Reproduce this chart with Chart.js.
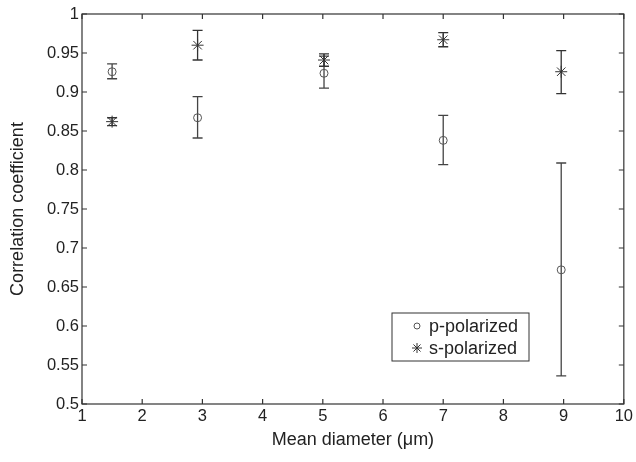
<!DOCTYPE html>
<html>
<head>
<meta charset="utf-8">
<script src="https://cdn.jsdelivr.net/npm/chart.js@4.4.0/dist/chart.umd.min.js"></script>
<style>
  body { margin: 0; background: #fff; }
</style>
</head>
<body>
<canvas id="grafico" width="636" height="462"></canvas>
<script>
// diametros medios (um)
const diametros = [1.5, 2.92, 5.02, 7.0, 8.96];

// p-polarizado: media e limites das barras de erro
const pMedia = [0.926, 0.867, 0.924, 0.838, 0.672];
const pBaixo = [0.917, 0.841, 0.905, 0.807, 0.536];
const pAlto  = [0.936, 0.894, 0.946, 0.870, 0.809];

// s-polarizado
const sMedia = [0.862, 0.960, 0.941, 0.967, 0.926];
const sBaixo = [0.857, 0.941, 0.933, 0.958, 0.898];
const sAlto  = [0.867, 0.979, 0.949, 0.976, 0.953];

const xTicks = [1, 2, 3, 4, 5, 6, 7, 8, 9, 10];
const yTicks = [0.5, 0.55, 0.6, 0.65, 0.7, 0.75, 0.8, 0.85, 0.9, 0.95, 1];

const fonte = 'Arial, "Liberation Sans", sans-serif';

// barras de erro, ticks para dentro, caixa e legenda (estilo MATLAB)
const estiloMatlab = {
    id: 'estiloMatlab',
    beforeDatasetsDraw(chart) {
        const ctx = chart.ctx;
        const x = chart.scales.x, y = chart.scales.y;
        const series = [
            { lo: pBaixo, hi: pAlto, cor: '#444' },
            { lo: sBaixo, hi: sAlto, cor: '#333' }
        ];
        ctx.save();
        ctx.lineWidth = 1.3;
        series.forEach(s => {
            ctx.strokeStyle = s.cor;
            diametros.forEach((d, i) => {
                const px = x.getPixelForValue(d);
                const y1 = y.getPixelForValue(s.lo[i]);
                const y2 = y.getPixelForValue(s.hi[i]);
                ctx.beginPath();
                ctx.moveTo(px, y1); ctx.lineTo(px, y2);
                ctx.moveTo(px - 5, y1); ctx.lineTo(px + 5, y1);
                ctx.moveTo(px - 5, y2); ctx.lineTo(px + 5, y2);
                ctx.stroke();
            });
        });
        ctx.restore();
    },
    afterDatasetsDraw(chart) {
        const ctx = chart.ctx;
        const a = chart.chartArea;
        const x = chart.scales.x, y = chart.scales.y;
        ctx.save();
        ctx.strokeStyle = '#333';
        ctx.lineWidth = 1.2;
        ctx.strokeRect(a.left, a.top, a.right - a.left, a.bottom - a.top);
        ctx.beginPath();
        xTicks.forEach(v => {
            const px = x.getPixelForValue(v);
            ctx.moveTo(px, a.bottom); ctx.lineTo(px, a.bottom - 5);
            ctx.moveTo(px, a.top); ctx.lineTo(px, a.top + 5);
        });
        yTicks.forEach(v => {
            const py = y.getPixelForValue(v);
            ctx.moveTo(a.left, py); ctx.lineTo(a.left + 5, py);
            ctx.moveTo(a.right, py); ctx.lineTo(a.right - 5, py);
        });
        ctx.stroke();

        // legenda
        const lx = 392, ly = 313, lw = 137, lh = 48;
        ctx.fillStyle = '#fff';
        ctx.fillRect(lx, ly, lw, lh);
        ctx.strokeStyle = '#333';
        ctx.lineWidth = 1;
        ctx.strokeRect(lx, ly, lw, lh);
        ctx.font = '18px ' + fonte;
        ctx.fillStyle = '#222';
        ctx.textBaseline = 'middle';
        chart.data.datasets.forEach((ds, i) => {
            const cy = ly + 13 + i * 22;
            const cx = lx + 25;
            ctx.strokeStyle = ds.borderColor;
            ctx.lineWidth = 1;
            ctx.beginPath();
            if (ds.pointStyle === 'circle') {
                ctx.arc(cx, cy, 3, 0, Math.PI * 2);
            } else {
                const r = 5;
                ctx.moveTo(cx - r, cy); ctx.lineTo(cx + r, cy);
                ctx.moveTo(cx, cy - r); ctx.lineTo(cx, cy + r);
                const q = r * 0.707;
                ctx.moveTo(cx - q, cy - q); ctx.lineTo(cx + q, cy + q);
                ctx.moveTo(cx - q, cy + q); ctx.lineTo(cx + q, cy - q);
            }
            ctx.stroke();
            ctx.fillText(ds.label, lx + 37, cy + 1);
        });
        ctx.restore();
    }
};

const ctx = document.getElementById('grafico').getContext('2d');
const grafico = new Chart(ctx, {
    type: 'scatter',
    data: {
        datasets: [{
            label: 'p-polarized',
            data: diametros.map((d, i) => ({ x: d, y: pMedia[i] })),
            pointStyle: 'circle',
            pointRadius: 4,
            pointBorderWidth: 1,
            borderColor: '#555',
            backgroundColor: 'rgba(0,0,0,0)'
        }, {
            label: 's-polarized',
            data: diametros.map((d, i) => ({ x: d, y: sMedia[i] })),
            pointStyle: 'star',
            pointRadius: 6,
            pointBorderWidth: 1,
            borderColor: '#333',
            backgroundColor: 'rgba(0,0,0,0)'
        }]
    },
    options: {
        responsive: false,
        animation: false,
        layout: { padding: { left: 0, top: 14, right: 11, bottom: 0 } },
        plugins: { legend: { display: false }, tooltip: { enabled: false } },
        scales: {
            x: {
                type: 'linear',
                min: 1, max: 10,
                afterBuildTicks: s => { s.ticks = xTicks.map(v => ({ value: v })); },
                afterFit: s => { s.height = 58; },
                grid: { display: false, drawTicks: false },
                border: { display: false },
                ticks: { color: '#222', padding: 3, font: { family: fonte, size: 16.5 } },
                title: {
                    display: true,
                    text: 'Mean diameter (\u03bcm)',
                    color: '#222',
                    padding: { top: 0, bottom: 11 },
                    font: { family: fonte, size: 18 }
                }
            },
            y: {
                min: 0.5, max: 1,
                afterBuildTicks: s => { s.ticks = yTicks.map(v => ({ value: v })); },
                afterFit: s => { s.width = 82; },
                grid: { display: false, drawTicks: false },
                border: { display: false },
                ticks: {
                    color: '#222', padding: 3, font: { family: fonte, size: 16.5 },
                    callback: v => String(+v.toFixed(2))
                },
                title: {
                    display: true,
                    text: 'Correlation coefficient',
                    color: '#222',
                    padding: { top: 7, bottom: 0 },
                    font: { family: fonte, size: 18 }
                }
            }
        }
    },
    plugins: [estiloMatlab]
});
</script>
</body>
</html>
